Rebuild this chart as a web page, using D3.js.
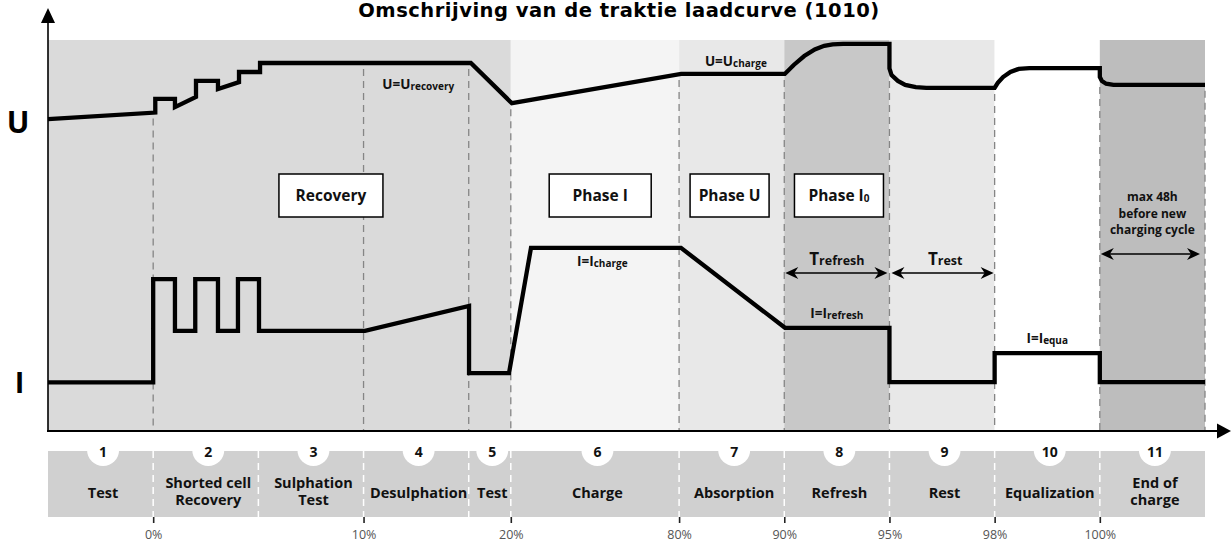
<!DOCTYPE html>
<html><head><meta charset="utf-8">
<script src="https://cdn.jsdelivr.net/npm/d3@7"></script>
<style>body{margin:0;background:#fff}svg{display:block}</style>
</head><body>
<svg id="chart" width="1231" height="543"></svg>
<script>
// ---------------- DATA ----------------
const titleText = "Omschrijving van de traktie laadcurve (1010)";
// phase boundaries in time units
const phaseBounds = [0, 10, 20, 30, 40, 44, 60, 70, 80, 90, 100, 110];
const phaseNumbers = ["1","2","3","4","5","6","7","8","9","10","11"];
const phaseNames = [["Test"],["Shorted cell","Recovery"],["Sulphation","Test"],["Desulphation"],["Test"],
  ["Charge"],["Absorption"],["Refresh"],["Rest"],["Equalization"],["End of","charge"]];
const percentTickTimes = [10, 30, 44, 60, 70, 80, 90, 100];
const percentLabels = ["0%","10%","20%","80%","90%","95%","98%","100%"];
const plotDashTimes = [10, 30, 40, 44, 60, 70, 80, 90, 100, 110];
const shadeBounds = [0, 44, 60, 70, 80, 90, 100, 110];
// voltage curve U: [time, level]
const uPoints = [
  [0,79.7],[10.2,81.4],[10.2,84.9],[12.07,84.9],[12.07,82.8],[14.07,85.4],[14.07,89.5],
  [16.16,89.5],[16.16,87.4],[18.16,89.2],[18.16,91.8],[20.16,91.8],[20.16,94.1],
  [40.2,94.1],[44.1,83.8],[60.2,91.3],[70.05,91.3],
  [70.9,93.6],[71.9,95.9],[72.9,97.6],[73.8,98.5],[74.6,98.9],[75.6,99.0],[80,99.0],
  [80,92.7],[80.2,91.0],[80.8,89.5],[81.5,88.5],[82.5,87.9],[83.5,87.7],[90,87.7],
  [90.3,89.0],[90.8,90.5],[91.5,91.8],[92.3,92.6],[93.3,92.8],[100,92.8],
  [100,90.5],[100.2,89.5],[100.6,88.8],[101.3,88.5],[110,88.5]
];
// current curve I: [time, level]
const iPoints = [
  [0,12.2],[10,12.2],[10,38.7],[12.07,38.7],[12.07,25.4],[14.0,25.4],[14.0,38.7],
  [16.16,38.7],[16.16,25.4],[18.06,25.4],[18.06,38.7],[20.06,38.7],[20.06,25.4],
  [30.14,25.4],[40.03,31.8],[40.03,14.6],[43.83,14.6],[45.92,46.7],[60.18,46.7],
  [70.07,26.2],[80,26.2],[80,12.3],[90,12.3],[90,19.7],[100,19.7],[100,12.3],[110,12.3]
];
const phaseBoxLabels = ["Recovery","Phase I","Phase U","Phase I"];
const phaseBoxSubs = ["","","","0"];

// ---------------- STYLE ----------------
const shadeColors = ["#dadada","#f4f4f4","#e8e8e8","#c8c8c8","#e8e8e8","#ffffff","#bdbdbd"];
const F = "'Open Sans','DejaVu Sans',sans-serif";

const svg = d3.select("#chart");
const x = d3.scaleLinear().domain([0,110]).range([48,1205]);
const y = d3.scaleLinear().domain([0,100]).range([430,40]);

// backgrounds
svg.append("g").selectAll("rect").data(shadeColors).join("rect")
  .attr("x",(c,i)=>x(shadeBounds[i])).attr("y",y(100))
  .attr("width",(c,i)=>x(shadeBounds[i+1])-x(shadeBounds[i]))
  .attr("height",y(0)-y(100)).attr("fill",c=>c);

// dashed phase lines
function uLowAt(t){
  const near = uPoints.filter(p=>Math.abs(p[0]-t)<=0.35);
  if (near.length) return d3.min(near,p=>p[1]);
  for (let k=0;k<uPoints.length-1;k++){
    const a=uPoints[k], b=uPoints[k+1];
    if (a[0]<=t && b[0]>=t) return a[1]+(b[1]-a[1])*(t-a[0])/(b[0]-a[0]);
  }
  return uPoints[uPoints.length-1][1];
}
svg.append("g").selectAll("line").data(plotDashTimes).join("line")
  .attr("x1",d=>x(d)).attr("x2",d=>x(d))
  .attr("y1",d=>y(uLowAt(d))+6).attr("y2",y(0))
  .attr("stroke","#858585").attr("stroke-width",1.3).attr("stroke-dasharray","7,5");

// curves
const line = d3.line().x(d=>x(d[0])).y(d=>y(d[1]));
[uPoints,iPoints].forEach(pts=>{
  svg.append("path").attr("d",line(pts)).attr("fill","none")
    .attr("stroke","#000").attr("stroke-width",4.3).attr("stroke-linejoin","miter").attr("stroke-miterlimit",10);
});

// rich text helper
function rich(xp, yp, parts, anchor){
  const t = svg.append("text").attr("x",xp).attr("y",yp).attr("text-anchor",anchor||"middle")
    .attr("font-family",F).attr("font-weight",700).attr("fill","#111");
  parts.forEach(p=>{
    const s=t.append("tspan").attr("font-size",p[1]).text(p[0]);
    if(p[2]) s.attr("dy",p[2]);
  });
  return t;
}

// phase boxes (centre time, width px)
const boxGeom = [[26.9,104],[52.5,102],[64.8,79],[75.2,89]];
boxGeom.forEach((g,i)=>{
  const cx = x(g[0]);
  svg.append("rect").attr("x",cx-g[1]/2).attr("y",174).attr("width",g[1]).attr("height",43)
    .attr("fill","#fff").attr("stroke","#000").attr("stroke-width",1.5);
  const parts=[[phaseBoxLabels[i],15.5]];
  if(phaseBoxSubs[i]) parts.push([phaseBoxSubs[i],10,1]);
  rich(cx,201,parts);
});

// annotations
rich(x(35.2),89,[["U=U",13.5],["recovery",10,0.5]]);
rich(x(65.4),66,[["U=U",13.5],["charge",10,0.5]]);
rich(x(52.7),266,[["I=I",13.5],["charge",10,0.5]]);
rich(x(75),318,[["I=I",13.5],["refresh",10,0.5]]);
rich(x(95),343,[["I=I",13.5],["equa",10,0.5]]);
rich(x(75),265,[["T",17],["refresh",12.5]]);
rich(x(85.3),265,[["T",17],["rest",12.5]]);
["max 48h","before new","charging cycle"].forEach((s,i)=>rich(x(105),201+i*16.5,[[s,12]]));

// double arrows
function dArrow(x1,x2,yy){
  svg.append("line").attr("x1",x1+8).attr("x2",x2-8).attr("y1",yy).attr("y2",yy)
    .attr("stroke","#000").attr("stroke-width",1.5);
  [[x1,-1],[x2,1]].forEach(([tx,d])=>{
    svg.append("path").attr("d",`M${tx},${yy}L${tx-d*13},${yy-6}L${tx-d*9},${yy}L${tx-d*13},${yy+6}Z`)
      .attr("fill","#000");
  });
}
dArrow(x(70)+1, x(80)-2, 273);
dArrow(x(80)+2, x(90)-1, 273);
dArrow(x(100)+1, x(110)-5, 254);

// axes
svg.append("line").attr("x1",48).attr("x2",48).attr("y1",y(0)+1).attr("y2",20)
  .attr("stroke","#000").attr("stroke-width",1.6);
svg.append("path").attr("d","M48,8L41,23L55,23Z").attr("fill","#000");
svg.append("line").attr("x1",47).attr("x2",1220).attr("y1",y(0)+1).attr("y2",y(0)+1)
  .attr("stroke","#000").attr("stroke-width",2);
svg.append("path").attr("d",`M1231,${y(0)+1}L1217,${y(0)-6.5}L1217,${y(0)+8.5}Z`).attr("fill","#000");

// axis labels
svg.append("text").attr("x",18).attr("y",133).attr("text-anchor","middle")
  .attr("font-family",F).attr("font-weight",700).attr("font-size",30).text("U");
svg.append("text").attr("x",19.5).attr("y",393).attr("text-anchor","middle")
  .attr("font-family",F).attr("font-weight",700).attr("font-size",29).text("I");

// title
svg.append("text").attr("x",619).attr("y",17).attr("text-anchor","middle")
  .attr("font-family","'DejaVu Sans',sans-serif").attr("font-weight",700).attr("font-size",19.5)
  .attr("letter-spacing",0.5).text(titleText);

// bottom strip
const stripTop=451, stripBot=517;
svg.append("rect").attr("x",x(0)).attr("y",stripTop).attr("width",x(110)-x(0)).attr("height",stripBot-stripTop)
  .attr("fill","#d0d0d0");
svg.append("g").selectAll("line").data(phaseBounds.slice(1,-1)).join("line")
  .attr("x1",d=>x(d)).attr("x2",d=>x(d)).attr("y1",stripTop).attr("y2",stripBot)
  .attr("stroke","#fff").attr("stroke-width",1.5).attr("stroke-dasharray","7,5");
const mids = phaseNumbers.map((n,i)=>x((phaseBounds[i]+phaseBounds[i+1])/2)+2.5);
svg.append("g").selectAll("circle").data(mids).join("circle")
  .attr("cx",d=>d).attr("cy",450).attr("r",16).attr("fill","#fff");
svg.append("g").selectAll("text").data(phaseNumbers).join("text")
  .attr("x",(d,i)=>mids[i]).attr("y",457).attr("text-anchor","middle")
  .attr("font-family",F).attr("font-weight",700).attr("font-size",14).attr("fill","#111").text(d=>d);
phaseNames.forEach((lines,i)=>{
  const ys = lines.length===1 ? [498] : [488,505];
  lines.forEach((s,j)=>{
    svg.append("text").attr("x",mids[i]).attr("y",ys[j]).attr("text-anchor","middle")
      .attr("font-family",F).attr("font-weight",700).attr("font-size",14.5).attr("fill","#111").text(s);
  });
});

// percent axis
const pAxis = d3.axisBottom(x).tickValues(percentTickTimes)
  .tickFormat((d,i)=>percentLabels[i]).tickSize(6).tickPadding(7);
const pg = svg.append("g").attr("transform",`translate(0,${stripBot})`).call(pAxis);
pg.select(".domain").remove();
pg.selectAll(".tick line").attr("stroke","#222").attr("stroke-width",1.6);
pg.selectAll(".tick text").attr("font-family",F).attr("font-size",12.5).attr("fill","#555");
</script>
</body></html>
